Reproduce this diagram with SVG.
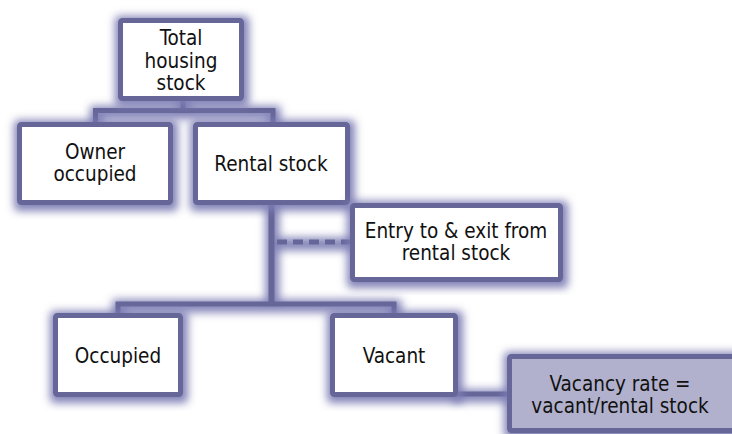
<svg xmlns="http://www.w3.org/2000/svg" width="732" height="434" viewBox="0 0 732 434">
<defs>
<filter id="glow" x="-20%" y="-20%" width="140%" height="140%">
<feMorphology in="SourceAlpha" operator="dilate" radius="4" result="d"/>
<feGaussianBlur in="d" stdDeviation="4" result="b"/>
<feOffset in="b" dx="1" dy="2" result="o"/>
<feFlood flood-color="#7c7cb4" flood-opacity="0.95"/>
<feComposite in2="o" operator="in" result="g"/>
<feMerge><feMergeNode in="g"/><feMergeNode in="SourceGraphic"/></feMerge>
</filter>
<filter id="lglow" x="0" y="0" width="732" height="434" filterUnits="userSpaceOnUse">
<feMorphology in="SourceAlpha" operator="dilate" radius="4" result="d"/>
<feGaussianBlur in="d" stdDeviation="4" result="b"/>
<feOffset in="b" dx="1" dy="2" result="o"/>
<feFlood flood-color="#7c7cb4" flood-opacity="0.95"/>
<feComposite in2="o" operator="in" result="g"/>
<feMerge><feMergeNode in="g"/><feMergeNode in="SourceGraphic"/></feMerge>
</filter>
</defs>
<style>
.box{fill:#ffffff;stroke:#666699;stroke-width:5;filter:url(#glow)}
.hl{fill:#b1b1cd}
.ln{fill:none;stroke:#666699;stroke-width:5}
.dash{stroke-dasharray:10 6}
text{font-family:"DejaVu Sans Condensed","DejaVu Sans",sans-serif;font-size:20.5px;fill:#111111;text-anchor:middle}
</style>
<g id="connectors" filter="url(#lglow)">
<path class="ln" d="M183,100 V110.5 M95.5,122 V110.5 H273 V122"/>
<path class="ln" d="M271.5,205 V304 M118,315 V304 H394 V315"/>
<path class="ln" d="M456,394 H508"/>
<path class="ln dash" d="M277,242 H352"/>
<rect x="268.5" y="205" width="6" height="100" fill="#666699"/>
</g>
<g id="total"><rect class="box" x="120.5" y="20.5" width="121" height="78" rx="2"/>
<text x="181" y="45">Total</text><text x="181" y="68">housing</text><text x="181" y="90">stock</text></g>
<g id="owner"><rect class="box" x="19.5" y="124.5" width="151" height="78" rx="2"/>
<text x="95" y="159">Owner</text><text x="95" y="181">occupied</text></g>
<g id="rental"><rect class="box" x="195.5" y="124.5" width="152" height="78" rx="2"/>
<text x="271" y="171">Rental stock</text></g>
<g id="entry"><rect class="box" x="352.5" y="205.5" width="208" height="74" rx="2"/>
<text x="456" y="238">Entry to &amp; exit from</text><text x="456" y="260">rental stock</text></g>
<g id="occupied"><rect class="box" x="55.5" y="315.5" width="125" height="79" rx="2"/>
<text x="118" y="363">Occupied</text></g>
<g id="vacant"><rect class="box" x="332.5" y="315.5" width="123" height="79" rx="2"/>
<text x="394" y="363">Vacant</text></g>
<g id="vacancy"><rect class="box hl" x="509.5" y="356.5" width="240" height="74" rx="2"/>
<text x="620" y="391">Vacancy rate =</text><text x="620" y="413">vacant/rental stock</text></g>
</svg>
